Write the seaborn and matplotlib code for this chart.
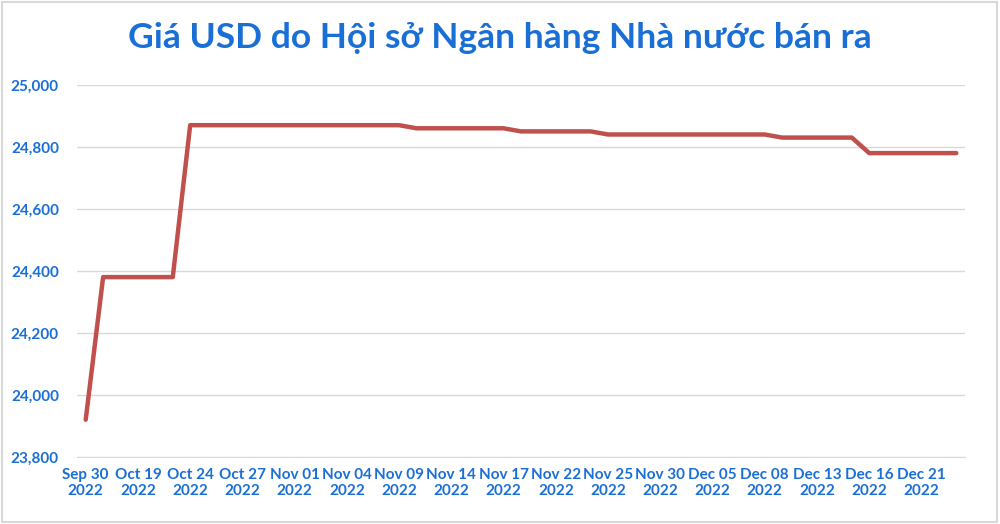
import numpy as np
import pandas as pd
import matplotlib
matplotlib.use("Agg")
import matplotlib.pyplot as plt
import seaborn as sns
from matplotlib.patches import Rectangle
from matplotlib.ticker import FuncFormatter

# Tick labels on the category axis (every third trading day)
tick_labels = ["Sep 30\n2022", "Oct 19\n2022", "Oct 24\n2022", "Oct 27\n2022",
               "Nov 01\n2022", "Nov 04\n2022", "Nov 09\n2022", "Nov 14\n2022",
               "Nov 17\n2022", "Nov 22\n2022", "Nov 25\n2022", "Nov 30\n2022",
               "Dec 05\n2022", "Dec 08\n2022", "Dec 13\n2022", "Dec 16\n2022",
               "Dec 21\n2022"]

# SBV selling price (VND/USD), one value per trading day
usd_price = [23920, 24380, 24380, 24380, 24380, 24380,
             24870, 24870, 24870, 24870, 24870, 24870,
             24870, 24870, 24870, 24870, 24870, 24870,
             24870, 24860, 24860, 24860, 24860, 24860,
             24860, 24850, 24850, 24850, 24850, 24850,
             24840, 24840, 24840, 24840, 24840, 24840,
             24840, 24840, 24840, 24840, 24830, 24830,
             24830, 24830, 24830, 24780, 24780, 24780,
             24780, 24780, 24780]

y_ticks = [23800, 24000, 24200, 24400, 24600, 24800, 25000]

df = pd.DataFrame({"day": np.arange(len(usd_price)), "price": usd_price})

sns.set_style("white")
plt.rcParams["font.family"] = ["Lato", "DejaVu Sans"]

blue = "#1a6fd6"

fig = plt.figure(figsize=(10, 5.24), dpi=100)
ax = fig.add_axes([0.077, 0.128, 0.888, 0.71])

sns.lineplot(data=df, x="day", y="price", ax=ax, color="#c0504d", linewidth=3.2)

ax.set_xlim(-0.5, len(usd_price) - 0.5)
ax.set_ylim(y_ticks[0], y_ticks[-1])
ax.set_yticks(y_ticks)
ax.yaxis.set_major_formatter(FuncFormatter(lambda v, p: f"{int(v):,}"))
ax.set_xticks(np.arange(0, len(usd_price), 3))
ax.set_xticklabels(tick_labels)
ax.grid(axis="y", color="#d9d9d9", linewidth=1)
ax.set_axisbelow(True)
for s in ax.spines.values():
    s.set_visible(False)
ax.spines["bottom"].set_visible(True)
ax.spines["bottom"].set_color("#d9d9d9")
ax.tick_params(axis="y", length=0, pad=13, labelsize=11, labelcolor=blue)
ax.tick_params(axis="x", length=0, pad=8, labelsize=11, labelcolor=blue)
for t in ax.get_xticklabels() + ax.get_yticklabels():
    t.set_fontweight("bold")
ax.set_xlabel("")
ax.set_ylabel("")

fig.text(0.5, 0.927, "Giá USD do Hội sở Ngân hàng Nhà nước bán ra",
         ha="center", va="center", fontsize=25.5, fontweight="bold", color=blue)

fig.patches.append(Rectangle((0.002, 0.004), 0.995, 0.992, transform=fig.transFigure,
                             fill=False, edgecolor="#d9d9d9", linewidth=1.5))

fig.savefig("out.png", dpi=100, facecolor="white")
